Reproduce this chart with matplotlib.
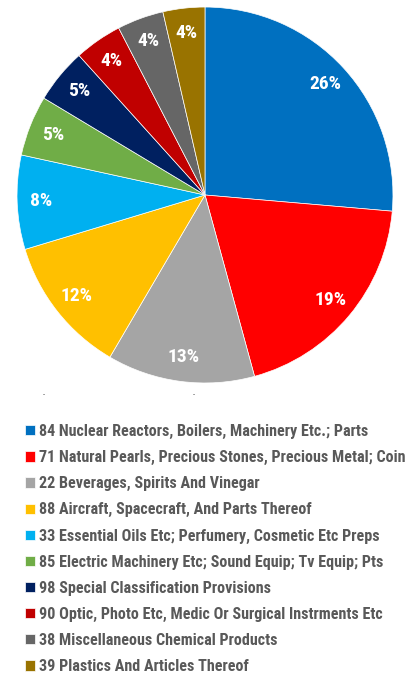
import numpy as np
import matplotlib.pyplot as plt

# shares (percent)
categories = [
    '84 Nuclear Reactors, Boilers, Machinery Etc.; Parts',
    '71 Natural Pearls, Precious Stones, Precious Metal; Coin',
    '22 Beverages, Spirits And Vinegar',
    '88 Aircraft, Spacecraft, And Parts Thereof',
    '33 Essential Oils Etc; Perfumery, Cosmetic Etc Preps',
    '85 Electric Machinery Etc; Sound Equip; Tv Equip; Pts',
    '98 Special Classification Provisions',
    '90 Optic, Photo Etc, Medic Or Surgical Instrments Etc',
    '38 Miscellaneous Chemical Products',
    '39 Plastics And Articles Thereof',
]
shares = [26.4, 19.4, 12.7, 11.9, 8.1, 5.2, 4.7, 4.1, 4.0, 3.6]
colors = ['#0070C0', '#FF0000', '#A5A5A5', '#FFC000', '#00B0F0',
          '#70AD47', '#002060', '#C00000', '#666666', '#997300']

plt.rcParams['font.family'] = ['Roboto Condensed', 'DejaVu Sans']

fig = plt.figure(figsize=(4.06, 6.75), dpi=100)
ax = fig.add_axes([0.0419, 0.4326, 0.926, 0.557])

wedges, texts, autotexts = ax.pie(
    shares, colors=colors, startangle=90, counterclock=False,
    autopct='%.0f%%', pctdistance=0.87, radius=1,
    wedgeprops=dict(edgecolor='white', linewidth=0.5),
    textprops=dict(color='white', fontsize=14, fontweight='bold'))
ax.set_xlim(-1, 1)
ax.set_ylim(-1, 1)
ax.set_aspect('equal')
ax.axis('off')

# two stray tick marks under the pie
for xm in [44, 194]:
    fig.text(xm / 406, 1 - 395 / 675, '-', fontsize=6, color='#404040',
             ha='center', va='center')

leg = fig.legend(wedges, categories, loc='upper left',
                 bbox_to_anchor=(0.0616, 1 - 424 / 675), frameon=False,
                 fontsize=11.6, handlelength=0.6, handleheight=0.6,
                 handletextpad=0.25, labelspacing=0.69, borderpad=0,
                 borderaxespad=0)
for t in leg.get_texts():
    t.set_color('#595959')
    t.set_fontweight('bold')

fig.savefig('out.png', dpi=100)
